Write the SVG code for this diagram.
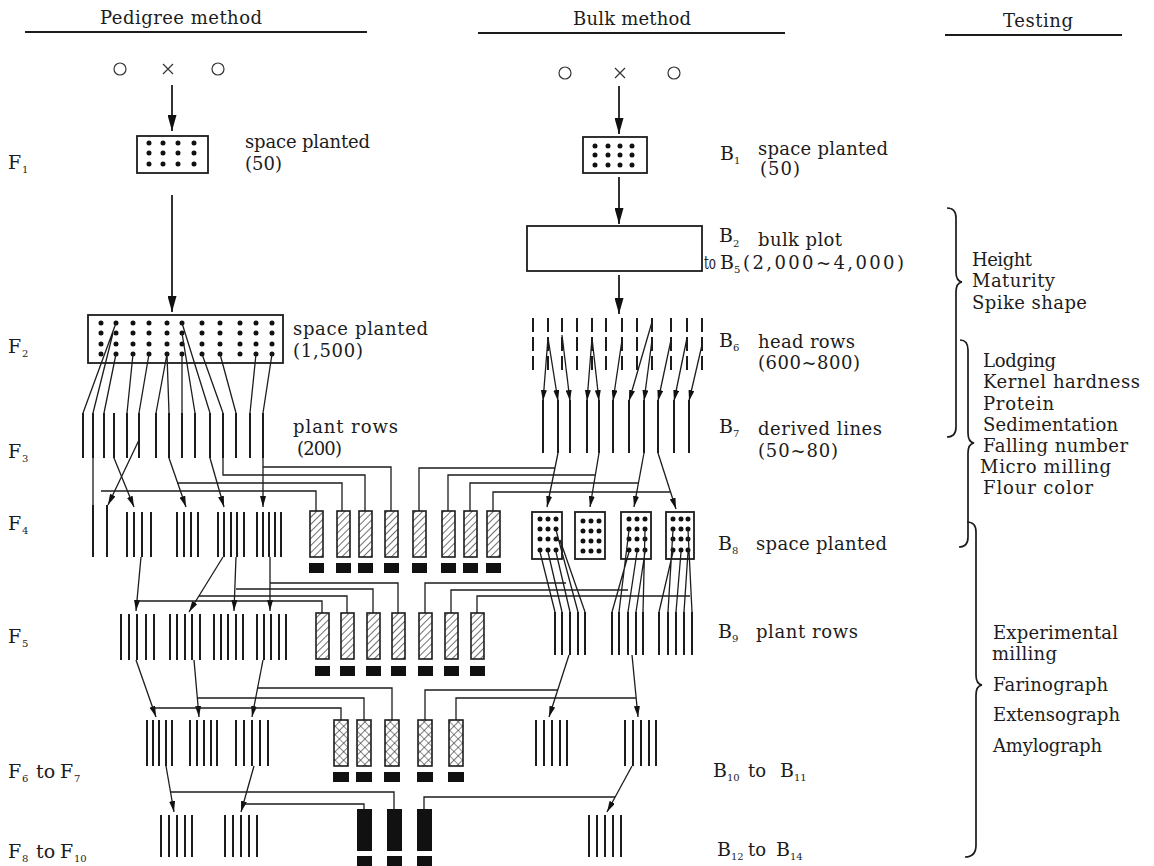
<svg xmlns="http://www.w3.org/2000/svg" width="1154" height="866" viewBox="0 0 1154 866">
<defs>
<style>
.t{font-family:"DejaVu Serif","Liberation Serif",serif;font-size:18px;fill:#1c1c1c}
.f{font-family:"DejaVu Serif","Liberation Serif",serif;font-size:19px;fill:#1c1c1c}
.s{font-family:"DejaVu Serif","Liberation Serif",serif;font-size:10px;fill:#1c1c1c}
.hl{stroke:#1c1c1c;stroke-width:1.8;fill:none}
.ln{stroke:#1c1c1c;stroke-width:1.3;fill:none}
.row{stroke:#1c1c1c;stroke-width:2;fill:none}
.dash{stroke:#1c1c1c;stroke-width:2;fill:none;stroke-dasharray:14 5}
.box{fill:#fff;stroke:#1c1c1c;stroke-width:1.8}
.dots{stroke:#111;stroke-width:5;stroke-linecap:round;fill:none}
.hatch{fill:url(#diag);stroke:#1c1c1c;stroke-width:1.6}
.xhatch{fill:url(#cross);stroke:#1c1c1c;stroke-width:1.6}
.blk{fill:#111}
.arr{stroke:#1c1c1c;stroke-width:1.3;fill:none;marker-end:url(#ah)}
.barr{stroke:#1c1c1c;stroke-width:1.8;fill:none;marker-end:url(#ahb)}
.sym{fill:none;stroke:#333;stroke-width:1.2}
.brace{fill:none;stroke:#1c1c1c;stroke-width:1.7}
</style>
<marker id="ah" markerWidth="11" markerHeight="6" refX="11" refY="3" orient="auto" markerUnits="userSpaceOnUse"><path d="M0,0 L11,3 L0,6 z" fill="#111"/></marker>
<marker id="ahb" markerWidth="16" markerHeight="9" refX="16" refY="4.5" orient="auto" markerUnits="userSpaceOnUse"><path d="M0,0 L16,4.5 L0,9 z" fill="#111"/></marker>
<pattern id="diag" patternUnits="userSpaceOnUse" width="5" height="5" patternTransform="rotate(45)"><rect width="5" height="5" fill="#fff"/><line x1="0" y1="0" x2="0" y2="5" stroke="#222" stroke-width="1.3"/></pattern>
<pattern id="cross" patternUnits="userSpaceOnUse" width="6" height="6" patternTransform="rotate(45)"><rect width="6" height="6" fill="#fff"/><path d="M0,0 V6 M0,0 H6" stroke="#222" stroke-width="1.2"/></pattern>
</defs>
<rect width="1154" height="866" fill="#fff"/>

<g id="headers">
<text class="t" x="100" y="24" textLength="162" lengthAdjust="spacing">Pedigree method</text>
<line class="hl" x1="25" y1="32" x2="367" y2="32"/>
<text class="t" x="573" y="25" textLength="118" lengthAdjust="spacing">Bulk method</text>
<line class="hl" x1="478" y1="33" x2="785" y2="33"/>
<text class="t" x="1003" y="27" textLength="70" lengthAdjust="spacing">Testing</text>
<line class="hl" x1="945" y1="35" x2="1122" y2="35"/>
</g>

<g id="gen-labels">
<text class="f" x="8" y="169">F</text><text class="s" x="22" y="173">1</text>
<text class="f" x="8" y="353">F</text><text class="s" x="22" y="357">2</text>
<text class="f" x="8" y="458">F</text><text class="s" x="22" y="462">3</text>
<text class="f" x="8" y="530">F</text><text class="s" x="22" y="534">4</text>
<text class="f" x="8" y="643">F</text><text class="s" x="22" y="647">5</text>
<text class="f" x="8" y="778">F</text><text class="s" x="22" y="782">6</text><text class="f" x="36" y="778">to</text><text class="f" x="60" y="778">F</text><text class="s" x="74" y="782">7</text>
<text class="f" x="8" y="858">F</text><text class="s" x="22" y="862">8</text><text class="f" x="36" y="858">to</text><text class="f" x="60" y="858">F</text><text class="s" x="74" y="862">10</text>
</g>

<g id="ped-texts">
<text class="t" x="245" y="148" textLength="125" lengthAdjust="spacing">space planted</text>
<text class="t" x="245" y="170" textLength="37" lengthAdjust="spacing">(50)</text>
<text class="t" x="293" y="335" textLength="135" lengthAdjust="spacing">space planted</text>
<text class="t" x="293" y="357" textLength="70" lengthAdjust="spacing">(1,500)</text>
<text class="t" x="293" y="433" textLength="105" lengthAdjust="spacing">plant rows</text>
<text class="t" x="297" y="455" textLength="45" lengthAdjust="spacing">(200)</text>
</g>

<g id="bulk-texts">
<text class="f" x="720" y="160">B</text><text class="s" x="734" y="164">1</text>
<text class="t" x="758" y="155" textLength="130" lengthAdjust="spacing">space planted</text>
<text class="t" x="760" y="175" textLength="40" lengthAdjust="spacing">(50)</text>
<text class="f" x="719" y="242">B</text><text class="s" x="733" y="247">2</text>
<text class="t" x="758" y="246" textLength="84" lengthAdjust="spacing">bulk plot</text>
<text class="t" x="704" y="269" textLength="12" lengthAdjust="spacingAndGlyphs">to</text><text class="f" x="720" y="269">B</text><text class="s" x="734" y="273">5</text>
<text class="t" x="743" y="269" textLength="161" lengthAdjust="spacing">(2,000~4,000)</text>
<text class="f" x="719" y="347">B</text><text class="s" x="733" y="351">6</text>
<text class="t" x="758" y="348" textLength="97" lengthAdjust="spacing">head rows</text>
<text class="t" x="758" y="369" textLength="102" lengthAdjust="spacing">(600~800)</text>
<text class="f" x="719" y="433">B</text><text class="s" x="733" y="437">7</text>
<text class="t" x="758" y="435" textLength="124" lengthAdjust="spacing">derived lines</text>
<text class="t" x="758" y="457" textLength="80" lengthAdjust="spacing">(50~80)</text>
<text class="f" x="718" y="550">B</text><text class="s" x="732" y="554">8</text>
<text class="t" x="756" y="550" textLength="131" lengthAdjust="spacing">space planted</text>
<text class="f" x="718" y="638">B</text><text class="s" x="732" y="642">9</text>
<text class="t" x="756" y="638" textLength="102" lengthAdjust="spacing">plant rows</text>
<text class="f" x="713" y="777">B</text><text class="s" x="727" y="781">10</text><text class="t" x="748" y="777">to</text><text class="f" x="780" y="777">B</text><text class="s" x="794" y="781">11</text>
<text class="f" x="717" y="856">B</text><text class="s" x="731" y="860">12</text><text class="t" x="748" y="856">to</text><text class="f" x="776" y="856">B</text><text class="s" x="790" y="860">14</text>
</g>

<g id="testing">
<path class="brace" d="M947,208 Q956,208 956,218 L956,272 Q956,281 962,282 Q956,283 956,292 L956,427 Q956,437 947,437"/>
<path class="brace" d="M960,340 Q968,340 968,350 L968,433 Q968,442 974,443 Q968,444 968,453 L968,537 Q968,547 959,547"/>
<path class="brace" d="M967,522 Q976,522 976,532 L976,675 Q976,684 982,685 Q976,686 976,695 L976,845 Q976,857 965,857"/>
<text class="t" x="972" y="266" textLength="60" lengthAdjust="spacing">Height</text>
<text class="t" x="972" y="287" textLength="83" lengthAdjust="spacing">Maturity</text>
<text class="t" x="972" y="309" textLength="115" lengthAdjust="spacing">Spike shape</text>
<text class="t" x="983" y="367" textLength="73" lengthAdjust="spacing">Lodging</text>
<text class="t" x="983" y="388" textLength="157" lengthAdjust="spacing">Kernel hardness</text>
<text class="t" x="983" y="410" textLength="71" lengthAdjust="spacing">Protein</text>
<text class="t" x="983" y="431" textLength="135" lengthAdjust="spacing">Sedimentation</text>
<text class="t" x="983" y="452" textLength="145" lengthAdjust="spacing">Falling number</text>
<text class="t" x="980" y="473" textLength="131" lengthAdjust="spacing">Micro milling</text>
<text class="t" x="983" y="494" textLength="110" lengthAdjust="spacing">Flour color</text>
<text class="t" x="993" y="639" textLength="125" lengthAdjust="spacing">Experimental</text>
<text class="t" x="992" y="660" textLength="65" lengthAdjust="spacing">milling</text>
<text class="t" x="993" y="691" textLength="115" lengthAdjust="spacing">Farinograph</text>
<text class="t" x="993" y="721" textLength="127" lengthAdjust="spacing">Extensograph</text>
<text class="t" x="993" y="752" textLength="109" lengthAdjust="spacing">Amylograph</text>
</g>

<g id="cross-ped">
<circle class="sym" cx="120" cy="69" r="6"/>
<path class="sym" d="M163,64 L173,74 M173,64 L163,74"/>
<circle class="sym" cx="218" cy="69" r="6"/>
</g>
<g id="cross-bulk">
<circle class="sym" cx="565" cy="73" r="6"/>
<path class="sym" d="M615,68 L625,78 M625,68 L615,78"/>
<circle class="sym" cx="674" cy="73" r="6"/>
</g>

<g id="f1">
<rect class="box" x="137" y="136" width="71" height="37"/>
<path class="dots" d="M149,143h0M163,143h0M178,143h0M194,143h0M149,153h0M163,153h0M178,153h0M194,153h0M149,164h0M163,164h0M178,164h0M194,164h0"/>
</g>
<g id="b1">
<rect class="box" x="583" y="137" width="64" height="36"/>
<path class="dots" d="M595,146h0M608,146h0M620,146h0M632,146h0M595,155h0M608,155h0M620,155h0M632,155h0M595,165h0M608,165h0M620,165h0M632,165h0"/>
</g>
<g id="b2">
<rect class="box" x="527" y="226" width="175" height="45"/>
</g>
<g id="f2">
<rect class="box" x="88" y="315" width="195" height="48"/>
<path class="dots" d="M101,323h0M116,323h0M133,323h0M149,323h0M167,323h0M182,323h0M202,323h0M220,323h0M240,323h0M256,323h0M272,323h0M101,333h0M116,333h0M133,333h0M149,333h0M167,333h0M182,333h0M202,333h0M220,333h0M240,333h0M256,333h0M272,333h0M101,344h0M116,344h0M133,344h0M149,344h0M167,344h0M182,344h0M202,344h0M220,344h0M240,344h0M256,344h0M272,344h0M101,354h0M116,354h0M133,354h0M149,354h0M167,354h0M182,354h0M202,354h0M220,354h0M240,354h0M256,354h0M272,354h0"/>
</g>

<g id="f3">
<path class="row" d="M83,413V458M93,413V458M104,413V458M114,413V458M127,413V458M139,413V458M156,413V458M169,413V458M182,413V458M195,413V458M210,413V458M223,413V458M236,413V458M250,413V458M263,413V458"/>
</g>
<g id="b6">
<path class="dash" d="M533,318V370M548,318V370M562,318V370M577,318V370M592,318V370M606,318V370M622,318V370M637,318V370M652,318V370M671,318V370M687,318V370M702,318V370"/>
</g>
<g id="b7">
<path class="row" d="M543,400V453M558,400V453M570,400V453M587,400V453M599,400V453M613,400V453M629,400V453M644,400V453M658,400V453M674,400V453M689,400V453"/>
</g>

<g id="f4-rows">
<path class="row" d="M93,505V557M107,505V557M127,512V557M134,512V557M142,512V557M151,512V557M177,512V557M184,512V557M191,512V557M198,512V557M218,512V557M224,512V557M231,512V557M237,512V557M244,512V557M257,512V557M263,512V557M269,512V557M275,512V557M281,512V557"/>
</g>
<g id="f4-plots">
<rect class="hatch" x="310" y="511" width="13" height="46"/><rect class="hatch" x="337" y="511" width="13" height="46"/><rect class="hatch" x="359" y="511" width="13" height="46"/><rect class="hatch" x="385" y="511" width="13" height="46"/><rect class="hatch" x="413" y="511" width="13" height="46"/><rect class="hatch" x="442" y="511" width="13" height="46"/><rect class="hatch" x="464" y="511" width="13" height="46"/><rect class="hatch" x="487" y="511" width="13" height="46"/>
<rect class="blk" x="309" y="563" width="15" height="10"/><rect class="blk" x="336" y="563" width="15" height="10"/><rect class="blk" x="358" y="563" width="15" height="10"/><rect class="blk" x="384" y="563" width="15" height="10"/><rect class="blk" x="412" y="563" width="15" height="10"/><rect class="blk" x="441" y="563" width="15" height="10"/><rect class="blk" x="463" y="563" width="15" height="10"/><rect class="blk" x="486" y="563" width="15" height="10"/>
</g>
<g id="b8">
<rect class="box" x="532" y="512" width="30" height="47"/><rect class="box" x="575" y="512" width="30" height="47"/><rect class="box" x="621" y="512" width="30" height="47"/><rect class="box" x="666" y="512" width="28" height="47"/>
<path class="dots" d="M540,519h0M548,519h0M556,519h0M540,529h0M548,529h0M556,529h0M540,539h0M548,539h0M556,539h0M540,550h0M548,550h0M556,550h0M583,521h0M591,521h0M599,521h0M583,531h0M591,531h0M599,531h0M583,541h0M591,541h0M599,541h0M583,551h0M591,551h0M599,551h0M629,519h0M637,519h0M645,519h0M629,529h0M637,529h0M645,529h0M629,539h0M637,539h0M645,539h0M629,550h0M637,550h0M645,550h0M673,519h0M681,519h0M688,519h0M673,529h0M681,529h0M688,529h0M673,539h0M681,539h0M688,539h0M673,550h0M681,550h0M688,550h0"/>
</g>

<g id="f5-rows">
<path class="row" d="M121,614V660M129,614V660M137,614V660M146,614V660M154,614V660M170,614V660M177,614V660M185,614V660M192,614V660M200,614V660M214,614V660M221,614V660M228,614V660M236,614V660M243,614V660M257,614V660M264,614V660M271,614V660M279,614V660M286,614V660"/>
</g>
<g id="f5-plots">
<rect class="hatch" x="316" y="613" width="13" height="46"/><rect class="hatch" x="341" y="613" width="13" height="46"/><rect class="hatch" x="367" y="613" width="13" height="46"/><rect class="hatch" x="392" y="613" width="13" height="46"/><rect class="hatch" x="419" y="613" width="13" height="46"/><rect class="hatch" x="445" y="613" width="13" height="46"/><rect class="hatch" x="471" y="613" width="13" height="46"/>
<rect class="blk" x="315" y="666" width="15" height="10"/><rect class="blk" x="340" y="666" width="15" height="10"/><rect class="blk" x="366" y="666" width="15" height="10"/><rect class="blk" x="391" y="666" width="15" height="10"/><rect class="blk" x="418" y="666" width="15" height="10"/><rect class="blk" x="444" y="666" width="15" height="10"/><rect class="blk" x="470" y="666" width="15" height="10"/>
</g>
<g id="b9">
<path class="row" d="M555,612V655M562,612V655M570,612V655M578,612V655M585,612V655M612,612V655M619,612V655M628,612V655M636,612V655M643,612V655M659,612V655M668,612V655M676,612V655M684,612V655M692,612V655"/>
</g>

<g id="f6-rows">
<path class="row" d="M147,720V766M153,720V766M159,720V766M166,720V766M172,720V766M190,720V766M197,720V766M204,720V766M211,720V766M217,720V766M236,720V766M244,720V766M252,720V766M260,720V766M268,720V766"/>
</g>
<g id="f6-plots">
<rect class="xhatch" x="334" y="720" width="14" height="46"/><rect class="xhatch" x="357" y="720" width="14" height="46"/><rect class="xhatch" x="385" y="720" width="14" height="46"/><rect class="xhatch" x="418" y="720" width="14" height="46"/><rect class="xhatch" x="449" y="720" width="14" height="46"/>
<rect class="blk" x="333" y="772" width="16" height="10"/><rect class="blk" x="356" y="772" width="16" height="10"/><rect class="blk" x="384" y="772" width="16" height="10"/><rect class="blk" x="417" y="772" width="16" height="10"/><rect class="blk" x="448" y="772" width="16" height="10"/>
</g>
<g id="b10">
<path class="row" d="M536,720V766M544,720V766M552,720V766M560,720V766M567,720V766M625,720V766M633,720V766M641,720V766M649,720V766M656,720V766"/>
</g>

<g id="f8-rows">
<path class="row" d="M161,815V857M169,815V857M177,815V857M185,815V857M192,815V857M225,815V857M233,815V857M241,815V857M249,815V857M257,815V857"/>
</g>
<g id="f8-plots">
<rect class="blk" x="357" y="809" width="15" height="42"/><rect class="blk" x="387" y="809" width="15" height="42"/><rect class="blk" x="417" y="809" width="15" height="42"/>
<rect class="blk" x="357" y="856" width="15" height="10"/><rect class="blk" x="387" y="856" width="15" height="10"/><rect class="blk" x="417" y="856" width="15" height="10"/>
</g>
<g id="b12">
<path class="row" d="M589,815V857M597,815V857M605,815V857M613,815V857M621,815V857"/>
</g>

<g id="connectors">
<line class="barr" x1="172" y1="85" x2="172" y2="131"/>
<line class="barr" x1="619" y1="86" x2="619" y2="134"/>
<line class="barr" x1="172" y1="195" x2="172" y2="312"/>
<line class="barr" x1="619" y1="177" x2="619" y2="224"/>
<line class="barr" x1="619" y1="275" x2="619" y2="314"/>
<path class="ln" d="M116,323L83,413M113,333L93,413M116,354L104,413M133,354L127,413M149,354L139,413M167,354L156,413M167,354L169,413M182,354L182,413M182,333L195,413M182,323L210,413M202,354L223,413M220,354L236,413M256,354L250,413M272,354L263,413"/>
<path class="arr" d="M548,338L543,401"/><path class="arr" d="M548,338L558,401"/><path class="arr" d="M562,335L570,401"/><path class="arr" d="M592,338L587,401"/><path class="arr" d="M592,338L599,401"/><path class="arr" d="M622,340L613,401"/><path class="arr" d="M652,322L629,401"/><path class="arr" d="M652,340L644,401"/><path class="arr" d="M671,340L658,401"/><path class="arr" d="M687,338L674,401"/><path class="arr" d="M702,345L689,401"/>
<path class="ln" d="M93,458V505"/>
<path class="arr" d="M114,458L134,507"/>
<path class="arr" d="M139,440L108,505"/>
<path class="arr" d="M169,458L186,507"/>
<path class="arr" d="M210,458L224,507"/>
<path class="arr" d="M263,458L263,507"/>
<path class="ln" d="M263,467H391V511M223,458V475H365V511M177,483H342V511M101,491H316V511"/>
<path class="arr" d="M558,453L547,507"/><path class="arr" d="M599,453L590,507"/><path class="arr" d="M644,453L634,507"/><path class="arr" d="M658,453L676,509"/>
<path class="ln" d="M419,511V468H555M448,511V475H595M470,511V483H638M493,511V492H671"/>
<path class="ln" d="M540,552L555,612M548,552L562,612M556,552L570,612M556,530L578,612M560,540L585,612M629,552L612,612M629,530L619,612M637,552L628,612M645,552L636,612M645,530L643,612M673,552L659,612M673,530L668,612M681,552L676,612M688,552L684,612M688,530L692,612"/>
<path class="arr" d="M141,557L136,611"/><path class="arr" d="M223,557L189,612"/><path class="arr" d="M236,557L234,611"/><path class="arr" d="M270,557L270,611"/>
<path class="ln" d="M270,583H398V613M236,589H373V613M199,596H347V613M137,601H322V613"/>
<path class="ln" d="M425,613V583H566M451,613V590H628M477,613V596H690"/>
<path class="arr" d="M136,660L156,717"/><path class="arr" d="M194,660L199,717"/><path class="arr" d="M263,660L252,717"/>
<path class="ln" d="M258,688H392V720M197,698H364V720M153,708H341V720"/>
<path class="arr" d="M569,655L549,717"/><path class="arr" d="M632,655L638,717"/>
<path class="ln" d="M425,720V690H558M456,720V698H636"/>
<path class="arr" d="M166,766L174,812"/><path class="arr" d="M254,766L241,812"/>
<path class="ln" d="M170,792H394V809M243,804H364V809"/>
<path class="arr" d="M632,766L607,812"/>
<path class="ln" d="M424,809V797H615"/>
</g>
</svg>
